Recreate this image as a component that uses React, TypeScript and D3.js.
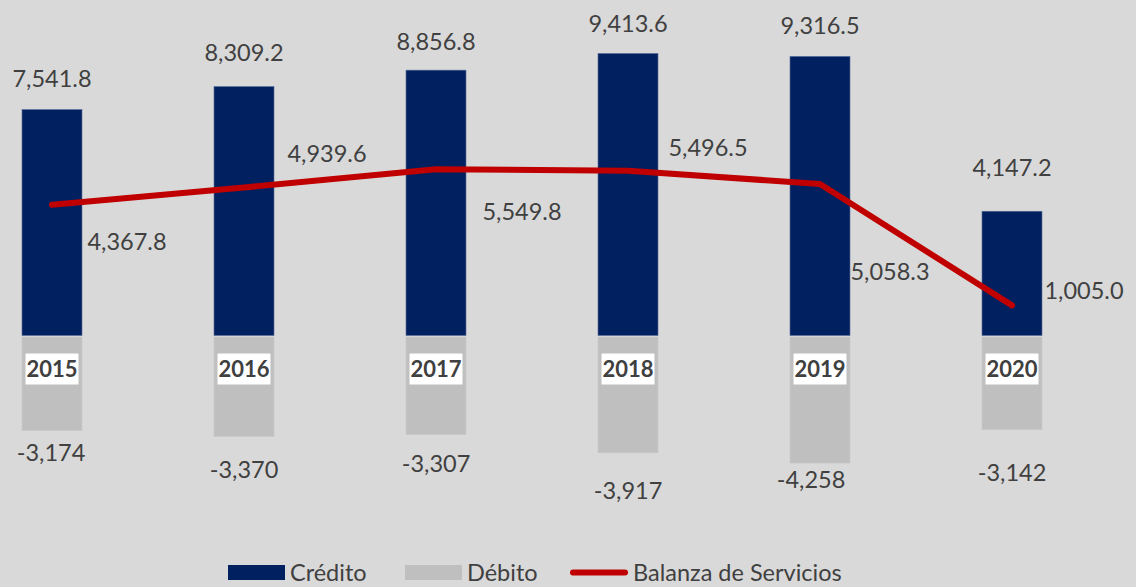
import * as d3 from 'd3';

// Balanza de servicios (millones), 2015-2020
const years = ['2015', '2016', '2017', '2018', '2019', '2020'];
const credito = [7541.8, 8309.2, 8856.8, 9413.6, 9316.5, 4147.2];
const debito = [-3174, -3370, -3307, -3917, -4258, -3142];
const balanza = [4367.8, 4939.6, 5549.8, 5496.5, 5058.3, 1005.0];

// label placement nudges (as in the original, labels were moved by hand)
const creditoLabelGap = [31, 34, 29, 30, 31, 44];
const debitoLabelGap = [22, 33, 29, 38, 16, 43];
const debitoLabelDx = [-1, 0, 0, 0, -9, 0];
const balanzaLabelOffset: [number, number][] = [
  [75, 37], [83, -34], [86, 42], [80, -23], [70, 88], [72, -15],
];

const W = 1136;
const H = 587;
const NAVY = '#002060';
const GREY = '#bfbfbf';
const RED = '#c00000';
const TEXT = '#404040';
const FONT = "'Liberation Sans Narrow', 'Arial Narrow', Lato, sans-serif";

const locale = d3.formatLocale({ decimal: '.', thousands: ',', grouping: [3], currency: ['$', ''], minus: '-' });
const fmt1 = locale.format(',.1f');
const fmt0 = locale.format(',d');

export default function App() {
  const x = d3.scalePoint<string>().domain(years).range([52, 1012]);
  const y = d3.scaleLinear().domain([-5000, 10000]).range([485.3, 35.9]);
  const barW = 60;
  const y0 = y(0);

  const line = d3.line<number>()
    .x((_, i) => x(years[i])!)
    .y((d) => y(d));

  return (
    <div style={{ position: 'fixed', left: 0, top: 0 }}>
      <svg width={W} height={H} style={{ display: 'block', fontFamily: FONT }}>
        <rect width={W} height={H} fill="#d9d9d9" />

        {/* Crédito bars */}
        {years.map((yr, i) => (
          <rect key={'c' + yr} x={x(yr)! - barW / 2} y={y(credito[i])} width={barW}
            height={y0 - y(credito[i])} fill={NAVY} stroke="#5a6f9a" strokeWidth={0.6} />
        ))}
        {/* Débito bars */}
        {years.map((yr, i) => (
          <rect key={'d' + yr} x={x(yr)! - barW / 2} y={y0 + 1.6} width={barW}
            height={y(debito[i]) - y0 - 1.6} fill={GREY} stroke="#c9c9c9" strokeWidth={0.6} />
        ))}

        {/* year labels */}
        {years.map((yr) => (
          <g key={'y' + yr} transform={`translate(${x(yr)},369)`}>
            <rect x={-26.5} y={-15.5} width={53} height={31} fill="#ffffff" />
            <text textAnchor="middle" dy="0.36em" fontFamily="Lato, sans-serif" fontWeight={700}
              fontSize={22} fill={TEXT}>{yr}</text>
          </g>
        ))}

        {/* Balanza line */}
        <path d={line(balanza)!} fill="none" stroke={RED} strokeWidth={6}
          strokeLinecap="round" strokeLinejoin="round" />

        {/* value labels */}
        {years.map((yr, i) => (
          <text key={'lc' + yr} x={x(yr)} y={y(credito[i]) - creditoLabelGap[i]} dy="0.36em"
            textAnchor="middle" fontSize={23.5} fill={TEXT}>{fmt1(credito[i])}</text>
        ))}
        {years.map((yr, i) => (
          <text key={'ld' + yr} x={x(yr)! + debitoLabelDx[i]} y={y(debito[i]) + debitoLabelGap[i]} dy="0.36em"
            textAnchor="middle" fontSize={23.5} fill={TEXT}>{fmt0(debito[i])}</text>
        ))}
        {years.map((yr, i) => (
          <text key={'lb' + yr} x={x(yr)! + balanzaLabelOffset[i][0]} y={y(balanza[i]) + balanzaLabelOffset[i][1]}
            dy="0.36em" textAnchor="middle" fontSize={23.5} fill={TEXT}>{fmt1(balanza[i])}</text>
        ))}

        {/* legend */}
        <g fontSize={23.5} fill={TEXT}>
          <rect x={228} y={565} width={57} height={15} fill={NAVY} />
          <text x={290} y={573} dy="0.36em">Crédito</text>
          <rect x={405} y={565} width={57} height={15} fill={GREY} />
          <text x={467} y={573} dy="0.36em">Débito</text>
          <line x1={573} x2={625} y1={572.5} y2={572.5} stroke={RED} strokeWidth={6} strokeLinecap="round" />
          <text x={633} y={573} dy="0.36em">Balanza de Servicios</text>
        </g>
      </svg>
    </div>
  );
}
